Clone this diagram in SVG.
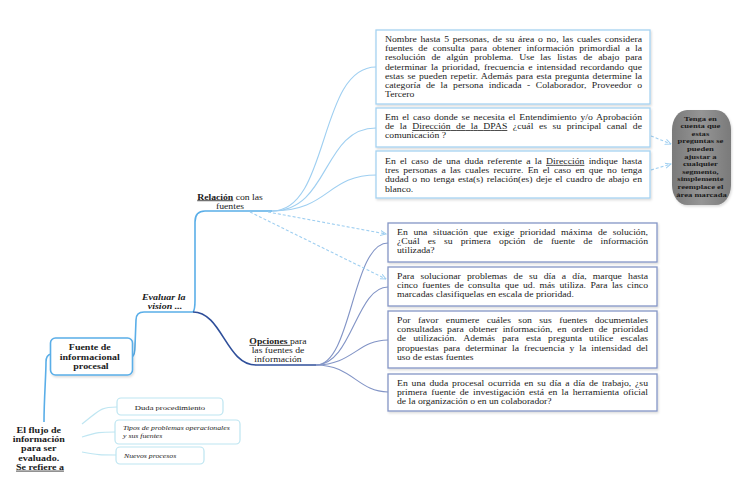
<svg xmlns="http://www.w3.org/2000/svg" width="741" height="497" viewBox="0 0 741 497" font-family="'Liberation Serif', 'Times New Roman', serif">
<style>
text{font-family:'Liberation Serif','Times New Roman',serif;fill:#1a1a1a}
.q{font-size:9.7px}
.bx-up{fill:#fff;stroke:#a6d3f1;stroke-width:1.3}
.bx-lo{fill:#fff;stroke:#8596c6;stroke-width:1.3}
.bx-sm{fill:#fff;stroke:#bde5f1;stroke-width:1.2}
.c-up{fill:none;stroke:#9fcff1;stroke-width:1.1}
.c-lo{fill:none;stroke:#8294c6;stroke-width:1.1}
.c-sm{fill:none;stroke:#bfe6f2;stroke-width:1.2}
.c-main{fill:none;stroke:#5aaee8;stroke-width:1.6}
.c-dark{fill:none;stroke:#2f4f9a;stroke-width:1.6}
.c-dash{fill:none;stroke:#9fcff1;stroke-width:1.1;stroke-dasharray:3 2}
.u{text-decoration:underline}
.bd{font-weight:bold}
</style>
<defs>
<marker id="arr" viewBox="0 0 10 10" refX="9" refY="5" markerWidth="6" markerHeight="6" orient="auto">
<path d="M0,1 L9,5 L0,9" fill="none" stroke="#9fcff1" stroke-width="1.5"/>
</marker>
<filter id="sh" x="-10%" y="-10%" width="130%" height="130%">
<feDropShadow dx="1" dy="1.5" stdDeviation="1" flood-color="#000" flood-opacity="0.15"/>
</filter>
<linearGradient id="gg" x1="0" y1="0" x2="1" y2="0">
<stop offset="0" stop-color="#7a7a7a"/>
<stop offset="0.5" stop-color="#959595"/>
<stop offset="1" stop-color="#7a7a7a"/>
</linearGradient>
</defs>
<rect width="741" height="497" fill="#fff"/>

<g id="connectors">
<path class="c-main" d="M44,422 C44,400 46,375 46,362 Q46,355 51,354"/>
<path class="c-main" d="M132,357 Q135,355 135,346 L136,320 Q136,312 144,312 L193,312"/>
<path class="c-main" d="M193,312 Q195,310 195,300 L195,222 Q195,211 205,211 L272,211"/>
<path class="c-dark" d="M193,312 C222,312 226,365 256,365 L316,365"/>
<path class="c-up" d="M272,211 C330,211 318,67 376,67"/>
<path class="c-up" d="M272,211 C330,211 322,128 376,128"/>
<path class="c-up" d="M272,211 C330,211 326,175 377,175"/>
<path class="c-lo" d="M316,365 C352,365 352,243 388,243"/>
<path class="c-lo" d="M316,365 C352,365 356,287 388,287"/>
<path class="c-lo" d="M316,365 C352,365 358,340 388,340"/>
<path class="c-lo" d="M316,365 C352,365 358,392 388,392"/>
<path class="c-dash" d="M268,212 L386,234" marker-end="url(#arr)"/>
<path class="c-dash" d="M250,212 L386,279" marker-end="url(#arr)"/>
<path class="c-dash" d="M651,136 L671,144" marker-end="url(#arr)"/>
<path class="c-dash" d="M651,170 L671,164" marker-end="url(#arr)"/>
<path class="c-sm" d="M82,424 C100,410 100,407 117,407"/>
<path class="c-sm" d="M82,437 C98,432 100,432 115,432"/>
<path class="c-sm" d="M82,452 C98,455 100,455 116,455"/>
</g>

<g id="root">
<g transform="translate(0,433) scale(1,0.8)">
<text class="bd" font-size="10" text-anchor="middle">
<tspan x="40" y="0">El flujo de</tspan>
<tspan x="40" y="11.5">información</tspan>
<tspan x="40" y="23">para ser</tspan>
<tspan x="40" y="34.5">evaluado.</tspan>
<tspan x="40" y="46" class="u">Se refiere a</tspan>
</text>
</g>
</g>

<g id="fuente">
<rect x="50.5" y="338" width="82" height="37" rx="5" fill="#fff" stroke="#5aaee8" stroke-width="1.6" filter="url(#sh)"/>
<g transform="translate(0,350) scale(1,0.8)">
<text class="bd" font-size="10" text-anchor="middle">
<tspan x="91" y="0">Fuente de</tspan>
<tspan x="91" y="11.9">informacional</tspan>
<tspan x="91" y="23.8">procesal</tspan>
</text>
</g>
</g>

<g id="evaluar">
<g transform="translate(0,300) scale(1,0.8)">
<text class="bd" font-size="10" font-style="italic" text-anchor="middle">
<tspan x="165" y="0">Evaluar la</tspan>
<tspan x="165" y="11.6">vision ...</tspan>
</text>
</g>
</g>

<g id="relacion">
<g transform="translate(0,199.5) scale(1,0.8)">
<text class="q" text-anchor="middle" x="230" y="0"><tspan class="bd u">Relación</tspan> con las</text>
<text class="q" text-anchor="middle" x="230" y="11.3">fuentes</text>
</g>
</g>

<g id="opciones">
<g transform="translate(0,344) scale(1,0.8)">
<text class="q" text-anchor="middle" x="278" y="0"><tspan class="bd u">Opciones </tspan>para</text>
<text class="q" text-anchor="middle" x="278" y="11.3">las fuentes de</text>
<text class="q" text-anchor="middle" x="278" y="22.6">información</text>
</g>
</g>

<g id="q1">
<rect class="bx-up" x="376" y="30" width="274" height="74" filter="url(#sh)"/>
<g transform="translate(0,42) scale(1,0.8)">
<text class="q" x="385" y="0" word-spacing="1.3" textLength="257" lengthAdjust="spacing">Nombre hasta 5 personas, de su área o no, las cuales considera</text>
<text class="q" x="385" y="11.5" word-spacing="2.8" textLength="257" lengthAdjust="spacing">fuentes de consulta para obtener información primordial a la</text>
<text class="q" x="385" y="23" word-spacing="3.6" textLength="257" lengthAdjust="spacing">resolución de algún problema. Use las listas de abajo para</text>
<text class="q" x="385" y="34.5" word-spacing="1.5" textLength="257" lengthAdjust="spacing">determinar la prioridad, frecuencia e intensidad recordando que</text>
<text class="q" x="385" y="46" word-spacing="1" textLength="257" lengthAdjust="spacing">estas se pueden repetir. Además para esta pregunta determine la</text>
<text class="q" x="385" y="57.5" word-spacing="3" textLength="257" lengthAdjust="spacing">categoría de la persona indicada - Colaborador, Proveedor o</text>
<text class="q" x="385" y="69">Tercero</text>
</g>
</g>

<g id="q2">
<rect class="bx-up" x="376" y="108" width="274" height="39" filter="url(#sh)"/>
<g transform="translate(0,120) scale(1,0.8)">
<text class="q" x="385" y="0" word-spacing="1.3" textLength="257" lengthAdjust="spacing">Em el caso donde se necesita el Entendimiento y/o Aprobación</text>
<text class="q" x="385" y="11.5" word-spacing="3.1" textLength="257" lengthAdjust="spacing">de la <tspan class="u">Dirección de la DPAS</tspan> ¿cuál es su principal canal de</text>
<text class="q" x="385" y="23">comunicación ?</text>
</g>
</g>

<g id="q3">
<rect class="bx-up" x="376" y="151" width="274" height="47" filter="url(#sh)"/>
<g transform="translate(0,164) scale(1,0.8)">
<text class="q" x="385" y="0" word-spacing="1.8" textLength="257" lengthAdjust="spacing">En el caso de una duda referente a la <tspan class="u">Dirección</tspan> indique hasta</text>
<text class="q" x="385" y="11.5" word-spacing="1.8" textLength="257" lengthAdjust="spacing">tres personas a las cuales recurre. En el caso en que no tenga</text>
<text class="q" x="385" y="23" word-spacing="1" textLength="257" lengthAdjust="spacing">dudad o no tenga esta(s) relación(es) deje el cuadro de abajo en</text>
<text class="q" x="385" y="34.5">blanco.</text>
</g>
</g>

<g id="nota">
<rect x="672" y="110" width="59" height="95" rx="15" ry="20" fill="url(#gg)" filter="url(#sh)"/>
<g transform="translate(0,120.5) scale(1,0.7)">
<text class="bd" font-size="8.6" text-anchor="middle" fill="#1e1e1e">
<tspan x="701.5" y="0">Tenga en</tspan>
<tspan x="701.5" y="10.86">cuenta que</tspan>
<tspan x="701.5" y="21.72">estas</tspan>
<tspan x="701.5" y="32.58">preguntas se</tspan>
<tspan x="701.5" y="43.44">pueden</tspan>
<tspan x="701.5" y="54.3">ajustar a</tspan>
<tspan x="701.5" y="65.16">cualquier</tspan>
<tspan x="701.5" y="76.02">segmento,</tspan>
<tspan x="701.5" y="86.88">simplemente</tspan>
<tspan x="701.5" y="97.74">reemplace el</tspan>
<tspan x="701.5" y="108.6">área marcada</tspan>
</text>
</g>
</g>

<g id="q4">
<rect class="bx-lo" x="388" y="223" width="269" height="39" filter="url(#sh)"/>
<g transform="translate(0,234.5) scale(1,0.8)">
<text class="q" x="397" y="0" word-spacing="3.2" textLength="251" lengthAdjust="spacing">En una situación que exige prioridad máxima de solución,</text>
<text class="q" x="397" y="11.5" word-spacing="5.7" textLength="251" lengthAdjust="spacing">¿Cuál es su primera opción de fuente de información</text>
<text class="q" x="397" y="23">utilizada?</text>
</g>
</g>

<g id="q5">
<rect class="bx-lo" x="388" y="267" width="269" height="39" filter="url(#sh)"/>
<g transform="translate(0,279) scale(1,0.8)">
<text class="q" x="397" y="0" word-spacing="3.8" textLength="251" lengthAdjust="spacing">Para solucionar problemas de su día a día, marque hasta</text>
<text class="q" x="397" y="11.5" word-spacing="1.9" textLength="251" lengthAdjust="spacing">cinco fuentes de consulta que ud. más utiliza. Para las cinco</text>
<text class="q" x="397" y="23">marcadas clasifiquelas en escala de prioridad.</text>
</g>
</g>

<g id="q6">
<rect class="bx-lo" x="388" y="311" width="269" height="57" filter="url(#sh)"/>
<g transform="translate(0,323) scale(1,0.8)">
<text class="q" x="397" y="0" word-spacing="5" textLength="251" lengthAdjust="spacing">Por favor enumere cuáles son sus fuentes documentales</text>
<text class="q" x="397" y="11.5" word-spacing="2.5" textLength="251" lengthAdjust="spacing">consultadas para obtener información, en orden de prioridad</text>
<text class="q" x="397" y="23" word-spacing="4.6" textLength="251" lengthAdjust="spacing">de utilización. Además para esta pregunta utilice escalas</text>
<text class="q" x="397" y="34.5" word-spacing="2.6" textLength="251" lengthAdjust="spacing">propuestas para determinar la frecuencia y la intensidad del</text>
<text class="q" x="397" y="46">uso de estas fuentes</text>
</g>
</g>

<g id="q7">
<rect class="bx-lo" x="388" y="374" width="269" height="37" filter="url(#sh)"/>
<g transform="translate(0,385.5) scale(1,0.8)">
<text class="q" x="397" y="0" word-spacing="1.4" textLength="251" lengthAdjust="spacing">En una duda procesal ocurrida en su día a día de trabajo, ¿su</text>
<text class="q" x="397" y="11.5" word-spacing="1.75" textLength="251" lengthAdjust="spacing">primera fuente de investigación está en la herramienta oficial</text>
<text class="q" x="397" y="23">de la organización o en un colaborador?</text>
</g>
</g>

<g id="duda">
<rect class="bx-sm" x="117" y="398" width="106" height="17" rx="4"/>
<g transform="translate(0,409.5) scale(1,0.8)">
<text font-size="8.6" text-anchor="middle" x="170" y="0">Duda procedimiento</text>
</g>
</g>

<g id="tipos">
<rect class="bx-sm" x="115" y="420" width="125" height="24" rx="4"/>
<g transform="translate(0,430) scale(1,0.8)">
<text font-size="7.8" font-style="italic">
<tspan x="123" y="0">Tipos de problemas operacionales</tspan>
<tspan x="123" y="9.5">y sus fuentes</tspan>
</text>
</g>
</g>

<g id="nuevos">
<rect class="bx-sm" x="116" y="447" width="88" height="17" rx="4"/>
<g transform="translate(0,458) scale(1,0.8)">
<text font-size="7.8" font-style="italic" x="124" y="0">Nuevos procesos</text>
</g>
</g>
</svg>
